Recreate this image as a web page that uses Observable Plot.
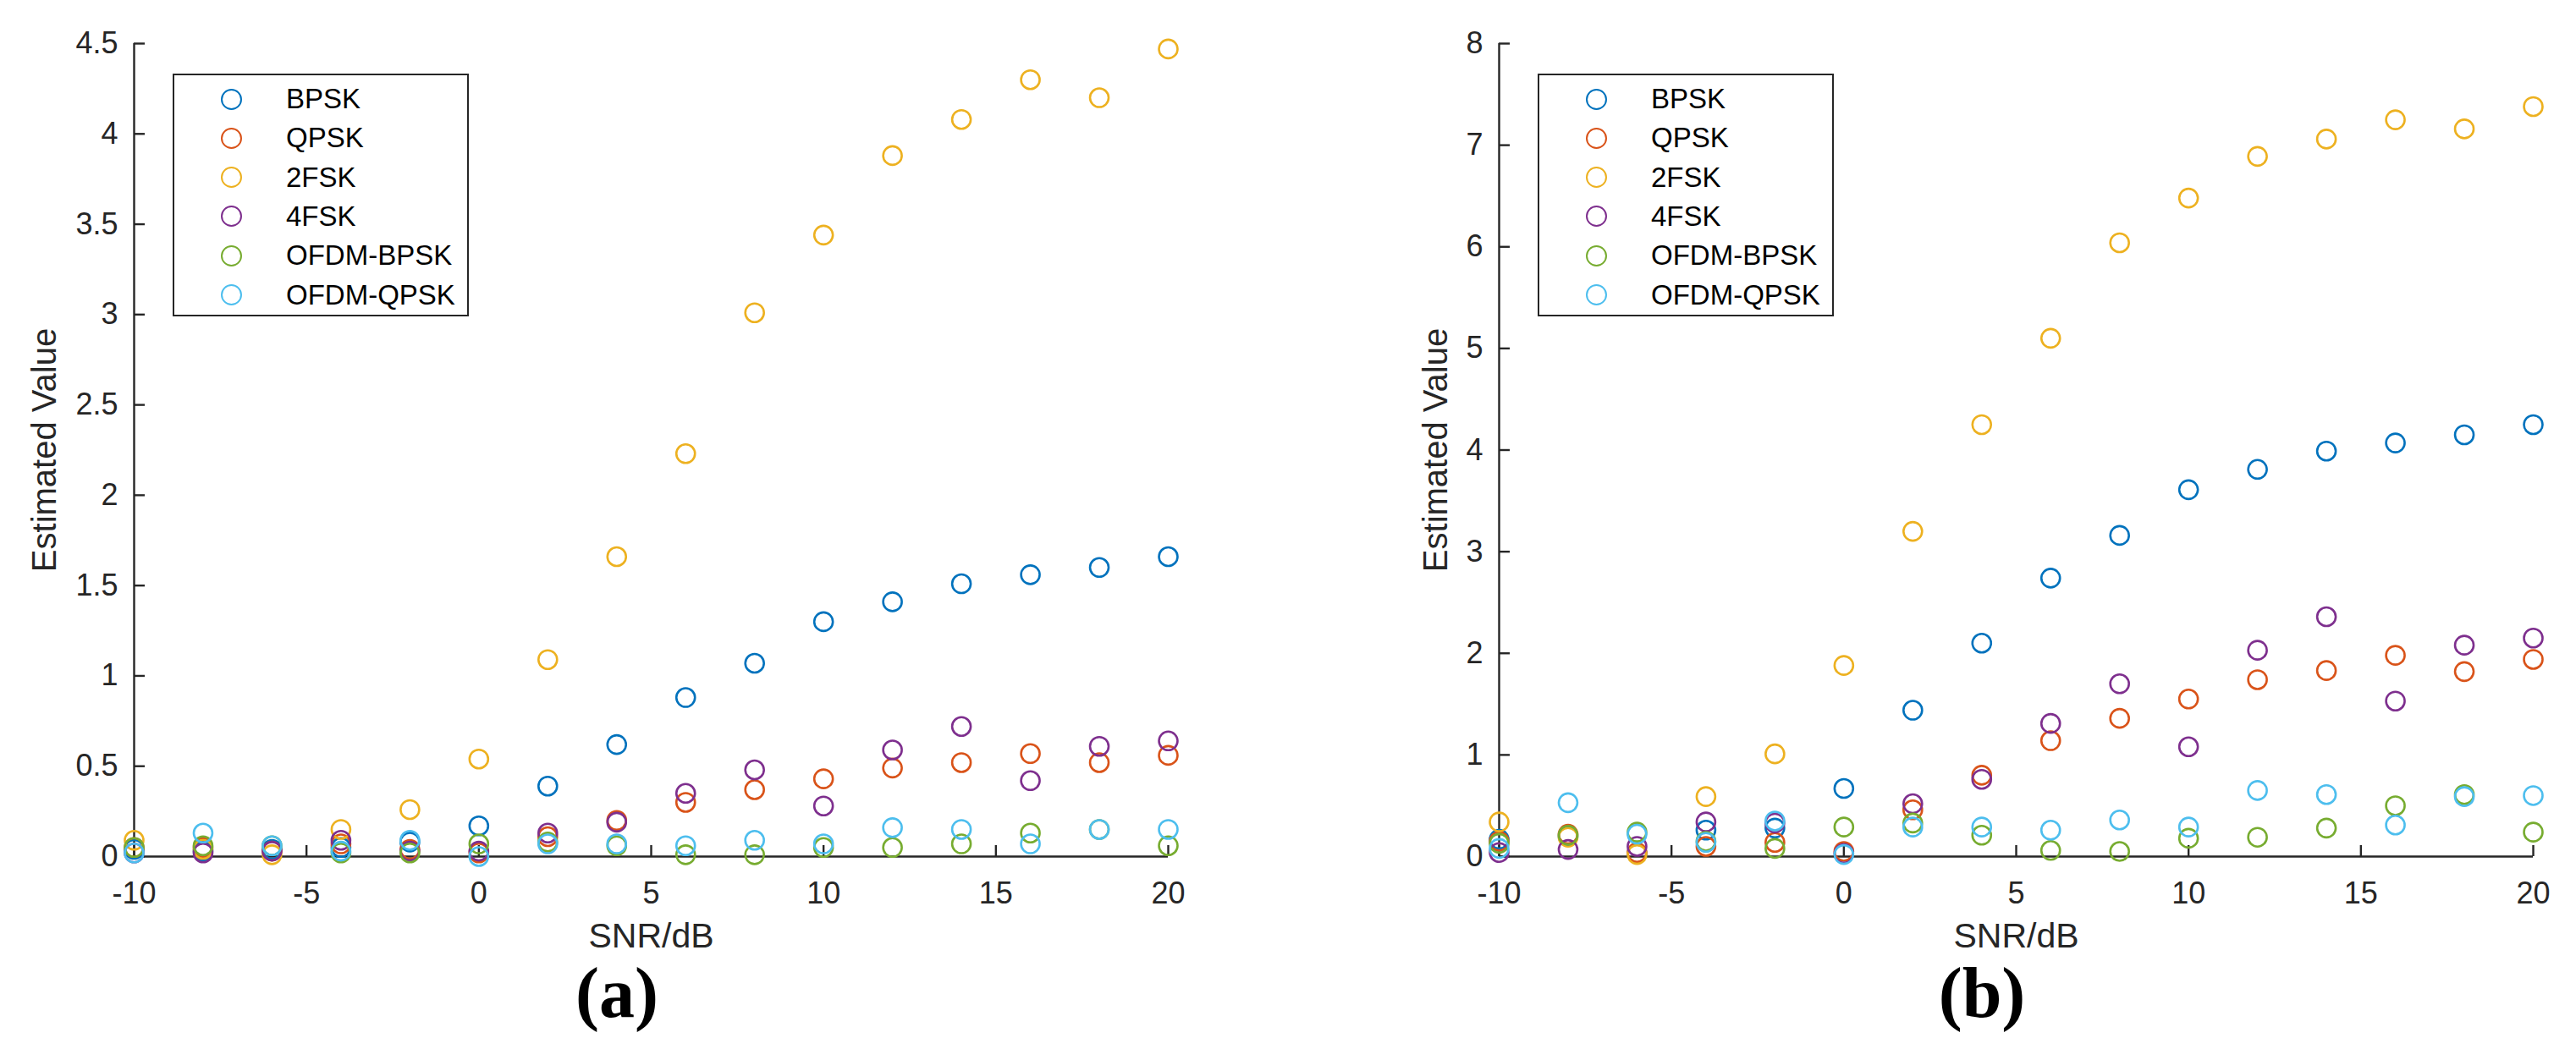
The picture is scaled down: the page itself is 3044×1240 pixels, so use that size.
<!DOCTYPE html>
<html>
<head>
<meta charset="utf-8">
<script src="https://cdn.jsdelivr.net/npm/d3@7"></script>
<script src="https://cdn.jsdelivr.net/npm/@observablehq/plot@0.6"></script>
<style>
  body { margin: 0; background: white; }
  #wrap { position: relative; width: 3044px; height: 1240px; font-family: "Liberation Sans", Arial, sans-serif; }
  .panel { position: absolute; top: 0; width: 1522px; height: 1240px; }
  .legend { position: absolute; box-sizing: border-box; border: 2px solid #262626; background: white; }
  .legend .mk { position: absolute; box-sizing: border-box; width: 25px; height: 25px; border-radius: 50%; border-width: 2.6px; border-style: solid; }
  .legend .lb { position: absolute; white-space: nowrap; }
  .cap { position: absolute; font-family: "Liberation Serif", "DejaVu Serif", serif; font-weight: bold; font-size: 84px; color: #000; transform: translateX(-50%); line-height: 1; }
</style>
</head>
<body>
<div id="wrap"></div>
<script>
// SNR points shared by both panels
const snr = [-10, -8, -6, -4, -2, 0, 2, 4, 6, 8, 10, 12, 14, 16, 18, 20];
const modulations = ["BPSK", "QPSK", "2FSK", "4FSK", "OFDM-BPSK", "OFDM-QPSK"];
const colors = ["#0072BD", "#D95319", "#EDB120", "#7E2F8E", "#77AC30", "#4DBEEE"];
const xTicks = [-10, -5, 0, 5, 10, 15, 20];

// panel (a)
const aBPSK = [0.04, 0.03, 0.04, 0.05, 0.08, 0.17, 0.39, 0.62, 0.88, 1.07, 1.30, 1.41, 1.51, 1.56, 1.60, 1.66];
const aQPSK = [0.05, 0.05, 0.03, 0.07, 0.04, 0.02, 0.11, 0.20, 0.30, 0.37, 0.43, 0.49, 0.52, 0.57, 0.52, 0.56];
const a2FSK = [0.09, 0.04, 0.01, 0.15, 0.26, 0.54, 1.09, 1.66, 2.23, 3.01, 3.44, 3.88, 4.08, 4.30, 4.20, 4.47];
const a4FSK = [0.02, 0.02, 0.03, 0.09, 0.03, 0.03, 0.13, 0.19, 0.35, 0.48, 0.28, 0.59, 0.72, 0.42, 0.61, 0.64];
const aOfdmBPSK = [0.05, 0.06, 0.06, 0.02, 0.02, 0.07, 0.08, 0.06, 0.01, 0.01, 0.05, 0.05, 0.07, 0.13, 0.15, 0.06];
const aOfdmQPSK = [0.02, 0.13, 0.06, 0.03, 0.09, 0.00, 0.07, 0.07, 0.06, 0.09, 0.07, 0.16, 0.15, 0.07, 0.15, 0.15];
const aYTicks = [0, 0.5, 1, 1.5, 2, 2.5, 3, 3.5, 4, 4.5];

// panel (b)
const bBPSK = [0.17, 0.20, 0.03, 0.26, 0.28, 0.67, 1.44, 2.10, 2.74, 3.16, 3.61, 3.81, 3.99, 4.07, 4.15, 4.25];
const bQPSK = [0.15, 0.22, 0.04, 0.10, 0.14, 0.05, 0.46, 0.80, 1.14, 1.36, 1.55, 1.74, 1.83, 1.98, 1.82, 1.94];
const b2FSK = [0.34, 0.19, 0.02, 0.59, 1.01, 1.88, 3.20, 4.25, 5.10, 6.04, 6.48, 6.89, 7.06, 7.25, 7.16, 7.38];
const b4FSK = [0.04, 0.07, 0.10, 0.34, 0.33, 0.03, 0.52, 0.76, 1.31, 1.70, 1.08, 2.03, 2.36, 1.53, 2.08, 2.15];
const bOfdmBPSK = [0.13, 0.21, 0.24, 0.15, 0.08, 0.29, 0.33, 0.21, 0.06, 0.05, 0.18, 0.19, 0.28, 0.50, 0.61, 0.24];
const bOfdmQPSK = [0.08, 0.53, 0.22, 0.14, 0.35, 0.02, 0.29, 0.29, 0.26, 0.36, 0.29, 0.65, 0.61, 0.31, 0.59, 0.60];
const bYTicks = [0, 1, 2, 3, 4, 5, 6, 7, 8];

function toRows(series) {
  // series in legend order, so the last one is drawn on top like in matlab
  return series.flatMap((vals, i) => vals.map((v, j) => ({snr: snr[j], value: v, mod: modulations[i]})));
}

const wrap = d3.select("#wrap");
const ink = "#262626";

function drawPanel(left, series, yMax, yTicks, ml, yLabelDx, caption) {
  const W = 1522, H = 1130, mt = 51, mb = 118, mr = W - ml - 1222;
  const rows = toRows(series);

  const chart = Plot.plot({
    width: W,
    height: H,
    marginLeft: ml,
    marginRight: mr,
    marginTop: mt,
    marginBottom: mb,
    x: {domain: [-10, 20]},
    y: {domain: [0, yMax]},
    color: {domain: modulations, range: colors},
    style: {fontFamily: '"Liberation Sans", Arial, sans-serif', fontSize: "36px", color: ink, background: "white", overflow: "visible"},
    marks: [
      Plot.ruleY([0], {stroke: ink, strokeWidth: 2.4}),
      Plot.ruleX([-10], {stroke: ink, strokeWidth: 2.4}),
      // inward ticks
      Plot.axisX({ticks: xTicks, tickSize: 13, dy: -13, tickFormat: () => "", label: null, strokeWidth: 2.4}),
      Plot.axisY({ticks: yTicks, tickSize: 13, dx: 13, tickFormat: () => "", label: null, strokeWidth: 2.4}),
      // tick labels
      Plot.axisX({ticks: xTicks, tickSize: 0, tickPadding: 30, tickFormat: d => String(d), label: null, fill: ink}),
      Plot.axisY({ticks: yTicks, tickSize: 0, tickPadding: 19, tickFormat: d => String(d), label: null, fill: ink}),
      Plot.text(["Estimated Value"], {frameAnchor: "left", textAnchor: "middle", lineAnchor: "middle", text: d => d, rotate: -90, dx: yLabelDx, fontSize: 40, fill: ink}),
      Plot.text(["SNR/dB"], {frameAnchor: "bottom", textAnchor: "middle", lineAnchor: "middle", text: d => d, dy: 94, fontSize: 41, fill: ink}),
      Plot.dot(rows, {x: "snr", y: "value", stroke: "mod", r: 11, strokeWidth: 2.6})
    ]
  });

  const p = wrap.append("div").attr("class", "panel").style("left", left + "px");
  p.append(() => chart);

  const lg = p.append("div").attr("class", "legend")
    .style("left", (ml + 46) + "px").style("top", "87px")
    .style("width", "350px").style("height", "287px");
  modulations.forEach((m, i) => {
    const cy = 28 + i * 46.3;
    lg.append("div").attr("class", "mk")
      .style("border-color", colors[i])
      .style("left", (67 - 12.5) + "px").style("top", (cy - 12.5) + "px");
    lg.append("div").attr("class", "lb")
      .style("left", "132px").style("top", (cy - 19) + "px")
      .style("font-size", "33px").style("line-height", "38px")
      .text(m);
  });

  p.append("div").attr("class", "cap")
    .style("left", (ml + 611 - 40) + "px").style("top", "1132px")
    .text(caption);
}

drawPanel(0, [aBPSK, aQPSK, a2FSK, a4FSK, aOfdmBPSK, aOfdmQPSK], 4.5, aYTicks, 158, -105, "(a)");
drawPanel(1522, [bBPSK, bQPSK, b2FSK, b4FSK, bOfdmBPSK, bOfdmQPSK], 8, bYTicks, 249, -74, "(b)");
</script>
</body>
</html>
